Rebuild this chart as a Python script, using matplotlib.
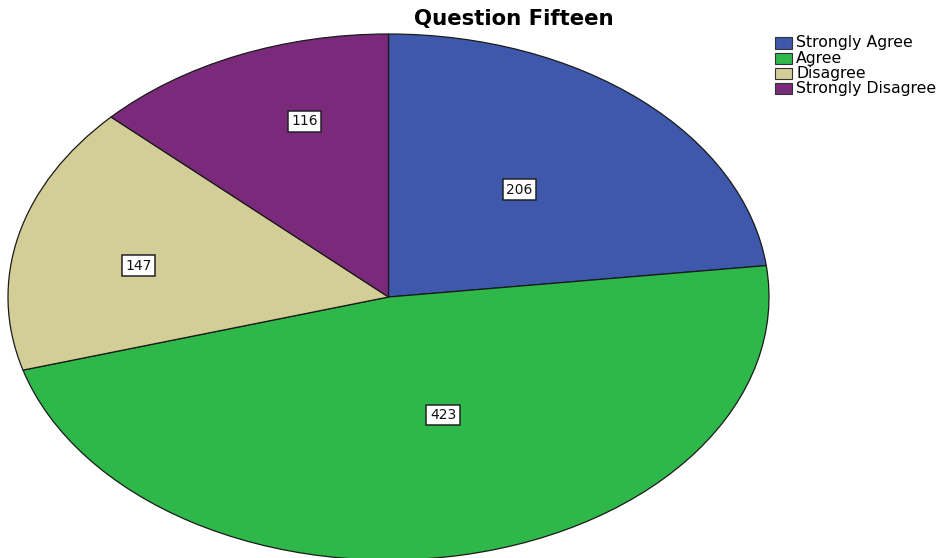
import numpy as np
import matplotlib
matplotlib.use("Agg")
import matplotlib.pyplot as plt
from matplotlib.patches import Rectangle

categories = ["Strongly Agree", "Agree", "Disagree", "Strongly Disagree"]
counts = [206, 423, 147, 116]
colors = ["#3E58AC", "#2EB84A", "#D3CD97", "#7B2A7B"]
# label placement inside each slice: radius and angle nudge (degrees)
label_radius = [0.534, 0.471, 0.668, 0.703]
label_nudge = [1.5, 6.2, 3.3, -5.1]

W, H = 939, 558
fig = plt.figure(figsize=(W / 100, H / 100), dpi=100)
# ellipse spans x 8..769, y 34..560 (pixels from top)
ax = fig.add_axes([8 / W, (H - 560) / H, 761 / W, 526 / H])

wedges, _ = ax.pie(
    counts,
    colors=colors,
    startangle=90,
    counterclock=False,
    wedgeprops=dict(edgecolor="#1a1a1a", linewidth=0.9),
)
ax.set_aspect("auto")
ax.set_xlim(-1, 1)
ax.set_ylim(-1, 1)
ax.axis("off")

for w, n, r, d in zip(wedges, counts, label_radius, label_nudge):
    mid = np.deg2rad((w.theta1 + w.theta2) / 2 + d)
    ax.text(
        r * np.cos(mid), r * np.sin(mid), str(n),
        ha="center", va="center", fontsize=10, color="#111111",
        bbox=dict(boxstyle="square,pad=0.25", fc="white", ec="#222222", lw=1.1),
    )

fig.text(514 / W, 1 - 19 / H, "Question Fifteen", ha="center", va="center",
         fontsize=15.3, fontweight="bold")

# legend drawn by hand to match the tight row spacing
for i, (cat, c) in enumerate(zip(categories, colors)):
    yc = 43 + i * 15.3
    fig.patches.append(Rectangle(
        (775 / W, 1 - (yc + 5.5) / H), 17 / W, 11 / H,
        transform=fig.transFigure, facecolor=c, edgecolor="#333333", linewidth=0.8,
    ))
    fig.text(796 / W, 1 - yc / H, cat, ha="left", va="center", fontsize=11.3)

fig.savefig("out.png", dpi=100)
